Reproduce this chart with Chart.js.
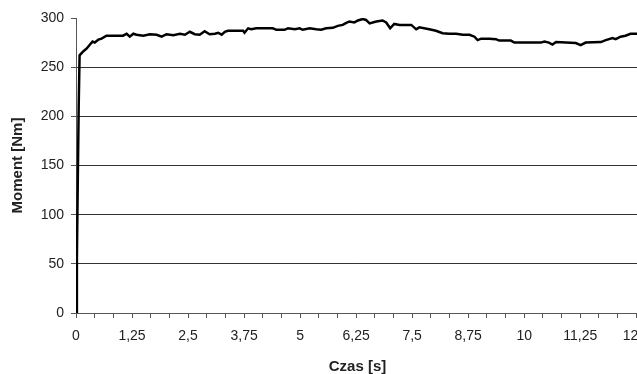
<!DOCTYPE html>
<html>
<head>
<meta charset="utf-8">
<script src="https://cdn.jsdelivr.net/npm/chart.js@4/dist/chart.umd.min.js"></script>
<style>
  html, body { margin: 0; padding: 0; background: #fff; overflow: hidden; }
  #wrap { width: 660px; height: 374px; }
</style>
</head>
<body>
<div id="wrap"><canvas id="momentChart" width="660" height="374"></canvas></div>
<script>
// Czas [s]
const czas = [0, 0.02, 0.04, 0.06, 0.08, 0.16, 0.24, 0.33, 0.37, 0.42,
  0.50, 0.57, 0.68, 1.05, 1.13, 1.20, 1.28, 1.35, 1.50, 1.65,
  1.80, 1.91, 2.02, 2.17, 2.32, 2.43, 2.54, 2.65, 2.76, 2.87,
  2.98, 3.10, 3.17, 3.25, 3.32, 3.39, 3.73, 3.76, 3.84, 3.91,
  4.02, 4.17, 4.39, 4.47, 4.65, 4.73, 4.88, 4.99, 5.06, 5.21,
  5.36, 5.47, 5.58, 5.73, 5.84, 5.95, 6.03, 6.10, 6.21, 6.29,
  6.40, 6.47, 6.55, 6.70, 6.84, 6.92, 7.01, 7.10, 7.22, 7.36,
  7.48, 7.59, 7.66, 7.88, 8.03, 8.18, 8.33, 8.48, 8.63, 8.78,
  8.89, 8.96, 9.04, 9.22, 9.37, 9.44, 9.70, 9.78, 10.37, 10.45,
  10.55, 10.63, 10.71, 11.15, 11.26, 11.37, 11.71, 11.82, 11.97, 12.04,
  12.15, 12.26, 12.37, 12.5, 12.6];

// Moment [Nm]
const moment = [0, 55, 135, 210, 262, 266, 269, 274, 276, 275,
  278, 279, 282, 282, 284, 281, 284, 283, 282, 283.5,
  283, 281, 283.5, 282.5, 284, 283, 286, 283.5, 283, 286.5,
  283.5, 284, 285, 283, 286, 287, 287, 285, 289.5, 288.5,
  289.5, 289.5, 289.5, 288, 288, 289.5, 288.5, 289.5, 288, 289.5,
  288.5, 288, 289.5, 290, 292, 293, 295, 296.5, 295.5, 297.5,
  299, 298, 294.5, 296.5, 297.5, 295.5, 289.5, 294, 293, 293,
  293, 288.5, 290.5, 288.5, 287, 284.5, 284, 284, 283, 283,
  281, 277.5, 279, 279, 278.5, 277, 277, 275, 275, 276,
  275, 273, 275.5, 274.5, 272.5, 275, 275.5, 277.5, 279.5, 278.5,
  281, 282, 284, 284, 284];

const xTickLabels = ['0', '1,25', '2,5', '3,75', '5', '6,25', '7,5', '8,75', '10', '11,25', '12,5'];
const xLabelStep = 1.25;
const minorPerLabel = 3;
const yTicks = [0, 50, 100, 150, 200, 250, 300];

const points = czas.map((t, i) => ({ x: t, y: moment[i] }));
const textColor = '#222';
const lineColor = '#555';

const ctx = document.getElementById('momentChart').getContext('2d');
const chart = new Chart(ctx, {
  type: 'line',
  data: {
    datasets: [{
      label: 'Moment',
      data: points,
      borderColor: '#000',
      borderWidth: 2.5,
      pointRadius: 0,
      tension: 0,
      fill: false
    }]
  },
  options: {
    responsive: false,
    animation: false,
    layout: { padding: { top: 18, right: 20, left: 0, bottom: 0 } },
    plugins: { legend: { display: false }, tooltip: { enabled: false } },
    scales: {
      x: {
        type: 'linear',
        min: 0,
        max: 12.56,
        afterBuildTicks: (scale) => {
          const ticks = [];
          for (let i = 0; i < xTickLabels.length * minorPerLabel; i++) {
            const v = i * xLabelStep / minorPerLabel;
            if (v <= scale.max) ticks.push({ value: v });
          }
          scale.ticks = ticks;
        },
        afterFit: (scale) => { scale.height = 61; },
        ticks: {
          autoSkip: false,
          maxRotation: 0,
          padding: 10,
          color: textColor,
          font: { family: 'Liberation Sans, Arial, sans-serif', size: 14 },
          callback: (value, index) => index % minorPerLabel === 0 ? xTickLabels[index / minorPerLabel] : ''
        },
        grid: { drawOnChartArea: false, drawTicks: true, tickLength: 5, tickColor: lineColor, color: lineColor },
        border: { display: true, color: lineColor, width: 1 },
        title: {
          display: true,
          text: 'Czas [s]',
          color: textColor,
          padding: { top: 0, bottom: -2 },
          font: { family: 'Liberation Sans, Arial, sans-serif', size: 15, weight: 'bold' }
        }
      },
      y: {
        min: 0,
        max: 300,
        afterBuildTicks: (scale) => { scale.ticks = yTicks.map(v => ({ value: v })); },
        afterFit: (scale) => { scale.width = 76; },
        ticks: {
          padding: 7,
          color: textColor,
          font: { family: 'Liberation Sans, Arial, sans-serif', size: 14 }
        },
        grid: {
          drawTicks: true,
          tickLength: 5,
          tickColor: lineColor,
          color: (c) => (c.tick && (c.tick.value === 300 || c.tick.value === 0)) ? 'rgba(0,0,0,0)' : '#333',
          lineWidth: 1
        },
        border: { display: true, color: lineColor, width: 1 },
        title: {
          display: true,
          text: 'Moment [Nm]',
          color: textColor,
          padding: { top: 9, bottom: 0 },
          font: { family: 'Liberation Sans, Arial, sans-serif', size: 15, weight: 'bold' }
        }
      }
    }
  }
});
</script>
</body>
</html>
